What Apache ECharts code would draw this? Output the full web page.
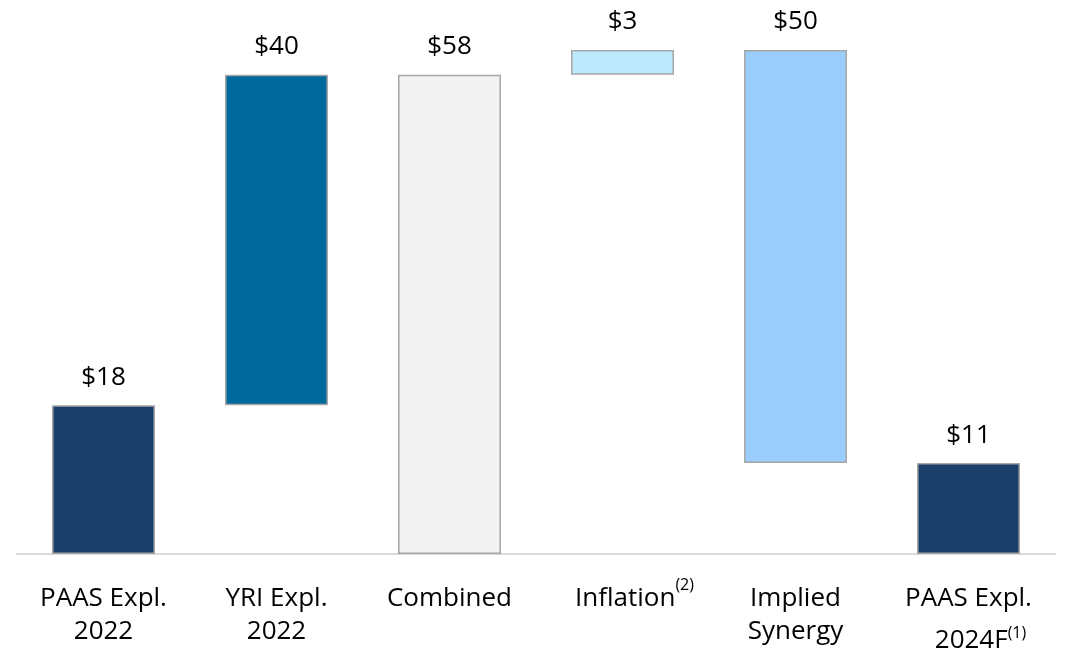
<!DOCTYPE html>
<html lang="en">
<head>
    <meta charset="UTF-8">
    <title>Exploration spend bridge</title>
    <style>
        html, body { margin: 0; padding: 0; background: #fff; }
    </style>
</head>
<body>
<div id="main" style="width: 1069px;height:655px;"></div>

<script src="https://cdn.jsdelivr.net/npm/echarts@6/dist/echarts.min.js"></script>
<script>
    // categories (axis text uses rich text for the footnote marks)
    var categories = ['PAAS Expl.\n2022', 'YRI Expl.\n2022', 'Combined', '{pad|}Inflation{sup|(2)}', 'Implied\nSynergy', 'PAAS Expl.\n{pad2|}2024F{sup2|(1)}'];
    // bar heights and the invisible offsets they sit on
    var barValues = [18, 40, 58, 3, 50, 11];
    var baseValues = [0, 18, 0, 58, 11, 0];
    var barColors = ['#193f6a', '#006a9e', '#f2f2f2', '#bde9fd', '#99cdfb', '#193f6a'];

    var chart = echarts.init(document.getElementById('main'));
    var font = 'Open Sans';

    chart.setOption({
        backgroundColor: '#fff',
        animation: false,
        grid: { left: 17, right: 14, top: 50, bottom: 101, outerBoundsMode: 'none', containLabel: false },
        xAxis: {
            type: 'category',
            data: categories,
            axisLine: { lineStyle: { color: '#d9d9d9', width: 2 } },
            axisTick: { show: false },
            axisLabel: {
                interval: 0,
                margin: 28,
                color: '#000',
                fontFamily: font,
                fontSize: 26,
                lineHeight: 33,
                rich: {
                    pad: { width: 24 },
                    pad2: { width: 24, lineHeight: 52 },
                    sup: { fontSize: 16, fontFamily: font, color: '#000', verticalAlign: 'top', lineHeight: 17, padding: [-5, 0, 0, 0] },
                    sup2: { fontSize: 16, fontFamily: font, color: '#000', verticalAlign: 'top', lineHeight: 17, padding: [10, 0, 0, 0] }
                }
            }
        },
        yAxis: {
            type: 'value',
            min: 0,
            max: 61,
            show: false,
            splitLine: { show: false }
        },
        series: [
            {
                name: 'base',
                type: 'bar',
                stack: 'w',
                barWidth: '59.5%',
                itemStyle: { color: 'transparent' },
                data: baseValues
            },
            {
                name: 'value',
                type: 'bar',
                stack: 'w',
                barWidth: '59.5%',
                data: barValues.map(function (v, i) {
                    return {
                        value: v,
                        itemStyle: { color: barColors[i], borderColor: '#a6a6a6', borderWidth: 1.5 }
                    };
                }),
                label: {
                    show: true,
                    position: 'top',
                    distance: 15,
                    color: '#000',
                    fontFamily: font,
                    fontSize: 26,
                    formatter: function (p) { return '$' + p.value; }
                }
            }
        ]
    });
</script>
</body>
</html>
